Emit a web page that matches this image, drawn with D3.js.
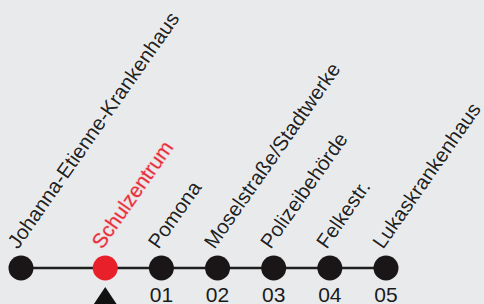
<!DOCTYPE html>
<html><head><meta charset="utf-8">
<script src="https://cdn.jsdelivr.net/npm/d3@7"></script>
<style>html,body{margin:0;padding:0;background:#e8eaec;}svg{display:block;}</style>
</head><body>
<script>
const stops = ["Johanna-Etienne-Krankenhaus","Schulzentrum","Pomona","Moselstraße/Stadtwerke","Polizeibehörde","Felkestr.","Lukaskrankenhaus"];
const stopDistance = [0, 1.5, 2.5, 3.5, 4.5, 5.5, 6.5];
const stopNumbers = ["", "", "01", "02", "03", "04", "05"];
const currentStop = "Schulzentrum";

const W = 484, H = 304;
const svg = d3.select("body").append("svg").attr("width", W).attr("height", H);
svg.append("rect").attr("width", W).attr("height", H).attr("fill", "#e8eaec");

const x = d3.scaleLinear().domain([0, 6.5]).range([21, 386]);
const lineY = 268;
const data = stops.map((s, i) => ({name: s, d: stopDistance[i], num: stopNumbers[i], cur: s === currentStop}));

svg.append("line")
  .attr("x1", x(d3.min(stopDistance))).attr("x2", x(d3.max(stopDistance)))
  .attr("y1", lineY).attr("y2", lineY)
  .attr("stroke", "#1e1e1e").attr("stroke-width", 2.5);

svg.selectAll("circle.stop").data(data).join("circle")
  .attr("class", "stop")
  .attr("cx", d => x(d.d)).attr("cy", lineY).attr("r", 12.5)
  .attr("fill", d => d.cur ? "#e8202a" : "#1a1617");

svg.selectAll("text.num").data(data.filter(d => d.num)).join("text")
  .attr("class", "num")
  .attr("x", d => x(d.d)).attr("y", 302)
  .attr("text-anchor", "middle")
  .attr("font-family", "Liberation Sans, Arial, sans-serif")
  .attr("font-size", 21)
  .attr("fill", "#1a1a1a")
  .text(d => d.num);

svg.selectAll("text.lbl").data(data).join("text")
  .attr("class", "lbl")
  .attr("transform", d => `translate(${x(d.d) - 3},${lineY - 18}) rotate(-55)`)
  .attr("font-family", "Liberation Sans, Arial, sans-serif")
  .attr("font-size", 20.5)
  .attr("fill", d => d.cur ? "#e5303c" : "#222")
  .attr("stroke", d => d.cur ? "#f3c9ce" : "#f3f4f5")
  .attr("stroke-width", 1.2)
  .attr("paint-order", "stroke")
  .text(d => d.name);

const cur = data.find(d => d.cur);
const cx = x(cur.d);
svg.append("path")
  .attr("d", d3.line()([[cx, 287], [cx + 12, 305], [cx - 12, 305]]) + "Z")
  .attr("fill", "#111");
</script>
</body></html>
